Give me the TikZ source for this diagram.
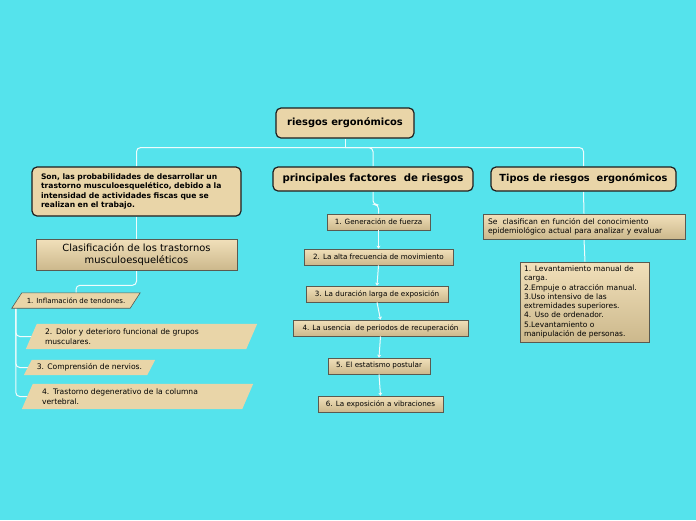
\documentclass[tikz,border=0pt]{standalone}
\usepackage{fontspec}
\setmainfont{DejaVu Sans}
\usetikzlibrary{arrows.meta}
\definecolor{bgc}{RGB}{85,227,236}
\definecolor{boxf}{RGB}{233,213,168}
\definecolor{boxtop}{RGB}{241,224,186}
\definecolor{boxbot}{RGB}{204,184,140}
\definecolor{edge}{RGB}{30,30,30}
\definecolor{gedge}{RGB}{90,90,80}
\definecolor{conn}{RGB}{240,252,252}
\pgfdeclarelayer{back}\pgfdeclarelayer{bg}\pgfdeclarelayer{mid}
\pgfsetlayers{back,bg,mid,main}
\tikzset{
  head/.style={draw=edge,line width=1.2pt,fill=boxf,rounded corners=5pt,inner sep=0pt,
    font=\bfseries\fontsize{9.9}{11}\selectfont},
  grad/.style={draw=gedge,line width=0.6pt,top color=boxtop,bottom color=boxbot,inner sep=0pt,
    font=\fontsize{7.2}{9.2}\selectfont},
  ptext/.style={inner sep=0pt,font=\fontsize{7.6}{9.4}\selectfont},
  pshape/.style={fill=boxf},
  link/.style={draw=conn,line width=1pt,rounded corners=4pt},
  arr/.style={draw=conn,line width=1pt,-{Stealth[length=3pt,width=4pt]}},
}
\begin{document}
\begin{tikzpicture}[x=1pt,y=-1pt]
\begin{pgfonlayer}{back}
\fill[bgc] (0,0) rectangle (696,520);
\end{pgfonlayer}
\useasboundingbox (0,0) rectangle (696,520);
% headers
\node[head,minimum width=138,minimum height=30] (root) at (345,123) {riesgos ergonómicos};
\node[head,minimum width=209,minimum height=49,align=left,text width=191,
  font=\bfseries\fontsize{7.6}{9.3}\selectfont] (left) at (136.5,191.5)
  {Son, las probabilidades de desarrollar un\\trastorno musculoesquelético, debido a la\\intensidad de actividades fiscas que se\\realizan en el trabajo.};
\node[head,minimum width=200,minimum height=24,font=\bfseries\fontsize{10.2}{11}\selectfont] (mid) at (373,179) {principales factores\ \ de riesgos};
\node[head,minimum width=185,minimum height=24,font=\bfseries\fontsize{9.8}{11}\selectfont] (right) at (583.5,179) {Tipos de riesgos\ \ ergonómicos};
% clasificacion
\node[grad,minimum width=201,minimum height=31,align=center,font=\fontsize{9.9}{11.8}\selectfont] (clas) at (136.5,254.5)
  {Clasificación de los trastornos\\musculoesqueléticos};
% factors
\node[grad,minimum width=103,minimum height=16] (f1) at (378.5,222) {1. Generación de fuerza};
\node[grad,minimum width=149,minimum height=16] (f2) at (378.5,257) {2. La alta frecuencia de movimiento};
\node[grad,minimum width=142,minimum height=16] (f3) at (377,294) {3. La duración larga de exposición};
\node[grad,minimum width=175,minimum height=16] (f4) at (380.5,328) {4. La usencia\ \ de periodos de recuperación};
\node[grad,minimum width=102,minimum height=16] (f5) at (379,366) {5. El estatismo postular};
\node[grad,minimum width=125,minimum height=16] (f6) at (380.5,404) {6. La exposición a vibraciones};
% right side
\node[grad,minimum width=202,minimum height=25,align=left,text width=192,font=\fontsize{7.6}{9.4}\selectfont] (se) at (584,226.5)
  {Se\ \ clasifican en función del conocimiento\\epidemiológico actual para analizar y evaluar};
\node[grad,minimum width=129,minimum height=80,align=left,text width=122,font=\fontsize{7.5}{9.25}\selectfont] (list) at (585,302)
  {1. Levantamiento manual de\\carga.\\2.Empuje o atracción manual.\\3.Uso intensivo de las\\extremidades superiores.\\4. Uso de ordenador.\\5.Levantamiento o\\manipulación de personas.};
% parallelogram items (text nodes; shapes drawn on mid layer)
\node[ptext,minimum width=128,minimum height=15,font=\fontsize{7}{9}\selectfont] (p1) at (76,300.5) {1. Inflamación de tendones.};
\node[ptext,minimum width=231,minimum height=25,align=left,text width=193] (p2) at (141.5,336.5)
  {2. Dolor y deterioro funcional de grupos\\musculares.};
\node[ptext,minimum width=131,minimum height=15] (p3) at (89.5,367.5) {3. Comprensión de nervios.};
\node[ptext,minimum width=231,minimum height=25,align=left,text width=191] (p4) at (137.5,396.5)
  {4. Trastorno degenerativo de la columna\\vertebral.};
\begin{pgfonlayer}{mid}
\draw[pshape,draw=gedge,line width=0.6pt] ([xshift=10pt]p1.north west) -- (p1.north east) -- ([xshift=-10pt]p1.south east) -- (p1.south west) -- cycle;
\fill[pshape] ([xshift=11pt]p2.north west) -- (p2.north east) -- ([xshift=-11pt]p2.south east) -- (p2.south west) -- cycle;
\fill[pshape] ([xshift=8pt]p3.north west) -- (p3.north east) -- ([xshift=-8pt]p3.south east) -- (p3.south west) -- cycle;
\fill[pshape] ([xshift=11pt]p4.north west) -- (p4.north east) -- ([xshift=-11pt]p4.south east) -- (p4.south west) -- cycle;
\end{pgfonlayer}
\coordinate (lp) at ([xshift=4pt]p1.south west);
\coordinate (jn) at ([yshift=-9pt]root.south);
\begin{pgfonlayer}{bg}
\draw[link] (root.south) -- (jn);
\draw[link] (left.north) |- (jn) -| (right.north);
\draw[link] (jn) -| (mid.north);
\draw[link] (left.south) -- (clas.north);
\draw[link] (clas.south) -- ++(0,15) -| (p1.north);
\draw[link] (lp) |- ([xshift=10pt]p2.west);
\draw[link] (lp) |- ([xshift=10pt]p3.west);
\draw[link] (lp) |- ([xshift=10pt]p4.west);
\draw[link] (mid.south) -- ++(0,13) -| (f1.north);
\draw[link] (right.south) -- (se.north);
\draw[link] (se.south) -- (list.north);
\end{pgfonlayer}
\draw[arr] (f1.south) -- (f2.north);
\draw[arr] (f2.south) -- (f3.north);
\draw[arr] (f3.south) -- (f4.north);
\draw[arr] (f4.south) -- (f5.north);
\draw[arr] (f5.south) -- (f6.north);
\end{tikzpicture}
\end{document}
